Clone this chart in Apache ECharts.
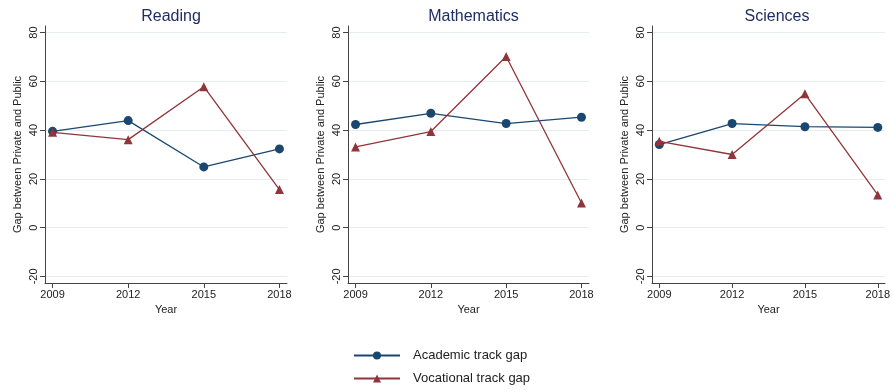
<!DOCTYPE html>
<html>
<head>
<meta charset="utf-8">
<script src="https://cdn.jsdelivr.net/npm/echarts@6/dist/echarts.min.js"></script>
<style>
  html, body { margin: 0; padding: 0; background: #fff; }
  #chart { width: 893px; height: 392px; }
</style>
</head>
<body>
<div id="chart"></div>
<script>
  var years = [2009, 2012, 2015, 2018];
  var subjects = ['Reading', 'Mathematics', 'Sciences'];
  var yTicks = [-20, 0, 20, 40, 60, 80];

  var academicReading = [39.5, 43.9, 24.9, 32.3];
  var academicMaths = [42.3, 46.9, 42.7, 45.3];
  var academicSciences = [34.1, 42.7, 41.4, 41.1];

  var vocationalReading = [39.1, 36.1, 57.8, 15.6];
  var vocationalMaths = [33.1, 39.4, 70.2, 10.1];
  var vocationalSciences = [35.4, 30.0, 54.9, 13.4];

  var academic = [academicReading, academicMaths, academicSciences];
  var vocational = [vocationalReading, vocationalMaths, vocationalSciences];

  var BLUE = '#1a476f', RED = '#90353b', AXIS = '#444', TEXT = '#222';
  var panels = [
    { left: 45, width: 242 },
    { left: 348, width: 241 },
    { left: 652, width: 240 }
  ];

  function pairs(values) {
    return years.map(function (y, i) { return [y, values[i]]; });
  }

  var grids = [], xAxes = [], yAxes = [], titles = [], series = [];
  panels.forEach(function (p, i) {
    grids.push({ left: p.left, width: p.width, top: 26, height: 257 });
    titles.push({
      text: subjects[i], left: p.left + p.width / 2, top: 4, textAlign: 'center',
      textStyle: { fontSize: 16, fontWeight: 'normal', color: '#1f2d63', fontFamily: 'Liberation Sans' }
    });
    xAxes.push({
      type: 'value', gridIndex: i, min: 2008.7, max: 2018.3,
      name: 'Year', nameLocation: 'middle', nameGap: 20,
      nameTextStyle: { fontSize: 11, color: TEXT, fontFamily: 'Liberation Sans' },
      axisLine: { show: true, onZero: false, lineStyle: { color: AXIS, width: 1 } },
      axisTick: { show: true, length: 5, customValues: years, lineStyle: { color: AXIS } },
      axisLabel: {
        customValues: years, fontSize: 11, color: TEXT, margin: 6, fontFamily: 'Liberation Sans',
        formatter: function (v) { return String(v); }
      },
      splitLine: { show: false }
    });
    yAxes.push({
      type: 'value', gridIndex: i, min: -22.7, max: 82.7,
      name: 'Gap between Private and Public', nameLocation: 'middle', nameRotate: 90, nameGap: 22,
      nameTextStyle: { fontSize: 11, color: TEXT, fontFamily: 'Liberation Sans' },
      axisLine: { show: true, onZero: false, lineStyle: { color: AXIS, width: 1 } },
      axisTick: { show: true, length: 5, customValues: yTicks, lineStyle: { color: AXIS } },
      axisLabel: { customValues: yTicks, rotate: 90, fontSize: 11, color: TEXT, margin: 6, fontFamily: 'Liberation Sans' },
      splitLine: { show: true, lineStyle: { color: '#e4eef0', width: 1 } }
    });
    series.push({
      name: 'Academic track gap', type: 'line', xAxisIndex: i, yAxisIndex: i,
      data: pairs(academic[i]), symbol: 'circle', symbolSize: 9,
      lineStyle: { color: BLUE, width: 1.3 }, itemStyle: { color: BLUE }, z: 3
    });
    series.push({
      name: 'Vocational track gap', type: 'line', xAxisIndex: i, yAxisIndex: i,
      data: pairs(vocational[i]), symbol: 'triangle', symbolSize: 9,
      lineStyle: { color: RED, width: 1.3 }, itemStyle: { color: RED }, z: 4
    });
  });

  var chart = echarts.init(document.getElementById('chart'));
  chart.setOption({
    animation: false,
    title: titles,
    grid: grids,
    xAxis: xAxes,
    yAxis: yAxes,
    legend: {
      orient: 'vertical', left: 348, top: 344, itemWidth: 46, itemHeight: 10, itemGap: 10,
      data: ['Academic track gap', 'Vocational track gap'],
      textStyle: { fontSize: 13, color: TEXT, fontFamily: 'Liberation Sans', padding: [0, 0, 0, 8] }
    },
    series: series
  });
</script>
</body>
</html>
